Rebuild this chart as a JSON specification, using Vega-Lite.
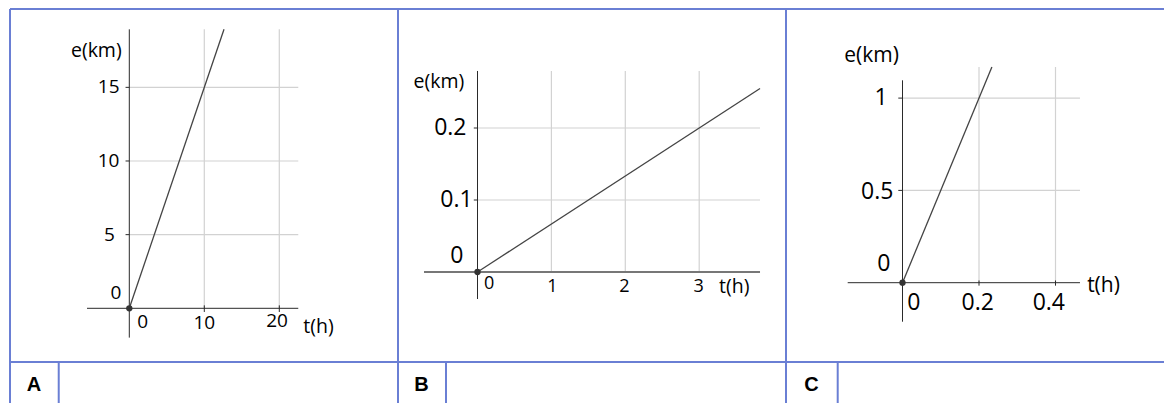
{
  "$schema": "https://vega.github.io/schema/vega-lite/v6.json",
  "padding": {"left": 9, "top": 8, "right": 0, "bottom": 0},
  "spacing": 0,
  "bounds": "flush",
  "config": {"view": {"stroke": null}},
  "hconcat": [
    {
      "width": 388, "height": 395,
      "data": {"values": [
        {"kind": "border", "t": -15.907, "t2": 35.827, "e": 20.319, "e2": 20.319},
        {"kind": "border", "t": -15.907, "t2": -15.907, "e": 20.319, "e2": -6.497},
        {"kind": "border", "t": -15.907, "t2": 35.827, "e": -3.646, "e2": -3.646},
        {"kind": "border", "t": -9.41, "t2": -9.41, "e": -3.646, "e2": -6.497},
        {"kind": "grid", "t": 10, "t2": 10, "e": 0, "e2": 18.94},
        {"kind": "grid", "t": 20, "t2": 20, "e": 0, "e2": 18.94},
        {"kind": "grid", "t": 0, "t2": 22.53, "e": 5, "e2": 5},
        {"kind": "grid", "t": 0, "t2": 22.53, "e": 10, "e2": 10},
        {"kind": "grid", "t": 0, "t2": 22.53, "e": 15, "e2": 15},
        {"kind": "axis", "t": -5.64, "t2": 22.53, "e": 0, "e2": 0},
        {"kind": "axis", "t": 0, "t2": 0, "e": -1.99, "e2": 18.94},
        {"kind": "axis", "t": -0.5, "t2": 0, "e": 5, "e2": 5},
        {"kind": "axis", "t": -0.5, "t2": 0, "e": 10, "e2": 10},
        {"kind": "axis", "t": -0.5, "t2": 0, "e": 15, "e2": 15},
        {"kind": "axis", "t": 10, "t2": 10, "e": 0.2, "e2": -0.25},
        {"kind": "axis", "t": 20, "t2": 20, "e": 0.2, "e2": -0.25},
        {"kind": "fn", "t": 0, "e": 0},
        {"kind": "fn", "t": 12.63, "e": 18.94},
        {"kind": "origin", "t": 0, "e": 0},
        {"kind": "lab", "t": -2.75, "e": 15, "label": "15"},
        {"kind": "lab", "t": -2.77, "e": 10, "label": "10"},
        {"kind": "lab", "t": -2.64, "e": 5, "label": "5"},
        {"kind": "lab", "t": -1.77, "e": 1.02, "label": "0"},
        {"kind": "lab", "t": 1.79, "e": -0.93, "label": "0"},
        {"kind": "lab", "t": 10, "e": -1.0, "label": "10"},
        {"kind": "lab", "t": 19.7, "e": -0.86, "label": "20"},
        {"kind": "title", "t": 25.23, "e": -1.27, "label": "t(h)"},
        {"kind": "title", "t": -4.4, "e": 17.47, "label": "e(km)"},
        {"kind": "cell", "t": -12.71, "e": -5.187, "label": "A"}
      ]},
      "encoding": {
        "x": {"field": "t", "type": "quantitative", "scale": {"domain": [-15.907, 35.827], "nice": false, "zero": false}, "axis": null},
        "y": {"field": "e", "type": "quantitative", "scale": {"domain": [-6.497, 20.319], "nice": false, "zero": false}, "axis": null}
      },
      "layer": [
        {"transform": [{"filter": "datum.kind === 'grid'"}], "mark": {"type": "rule", "stroke": "#d2d2d2", "strokeWidth": 1.2}, "encoding": {"x2": {"field": "t2"}, "y2": {"field": "e2"}}},
        {"transform": [{"filter": "datum.kind === 'axis'"}], "mark": {"type": "rule", "stroke": "#2a2a2a", "strokeWidth": 1}, "encoding": {"x2": {"field": "t2"}, "y2": {"field": "e2"}}},
        {"transform": [{"filter": "datum.kind === 'border'"}], "mark": {"type": "rule", "stroke": "#6a7fd4", "strokeWidth": 2}, "encoding": {"x2": {"field": "t2"}, "y2": {"field": "e2"}}},
        {"transform": [{"filter": "datum.kind === 'fn'"}], "mark": {"type": "line", "stroke": "#444444", "strokeWidth": 1.3}},
        {"transform": [{"filter": "datum.kind === 'origin'"}], "mark": {"type": "point", "filled": true, "fill": "#333333", "size": 40, "opacity": 1}},
        {"transform": [{"filter": "datum.kind === 'lab'"}], "mark": {"type": "text", "font": "Open Sans", "fontSize": 19, "fill": "#000000", "align": "center", "baseline": "middle"}, "encoding": {"text": {"field": "label"}}},
        {"transform": [{"filter": "datum.kind === 'title'"}], "mark": {"type": "text", "font": "Open Sans", "fontSize": 19.5, "fill": "#000000", "align": "center", "baseline": "middle"}, "encoding": {"text": {"field": "label"}}},
        {"transform": [{"filter": "datum.kind === 'cell'"}], "mark": {"type": "text", "font": "Liberation Sans", "fontWeight": "bold", "fontSize": 20, "fill": "#000000", "align": "center", "baseline": "middle"}, "encoding": {"text": {"field": "label"}}}
      ]
    },
    {
      "width": 388, "height": 395,
      "data": {"values": [
        {"kind": "border", "t": -1.0758, "t2": 4.1746, "e": 0.36528, "e2": 0.36528},
        {"kind": "border", "t": -1.0758, "t2": -1.0758, "e": 0.36528, "e2": -0.18333},
        {"kind": "border", "t": -1.0758, "t2": 4.1746, "e": -0.125, "e2": -0.125},
        {"kind": "border", "t": -0.4263, "t2": -0.4263, "e": -0.125, "e2": -0.18333},
        {"kind": "grid", "t": 1, "t2": 1, "e": 0, "e2": 0.2792},
        {"kind": "grid", "t": 2, "t2": 2, "e": 0, "e2": 0.2792},
        {"kind": "grid", "t": 3, "t2": 3, "e": 0, "e2": 0.2792},
        {"kind": "grid", "t": 0, "t2": 3.823, "e": 0.1, "e2": 0.1},
        {"kind": "grid", "t": 0, "t2": 3.823, "e": 0.2, "e2": 0.2},
        {"kind": "xaxis", "t": -0.724, "t2": 3.823, "e": 0, "e2": 0},
        {"kind": "axis", "t": 0, "t2": 0, "e": -0.0375, "e2": 0.2792},
        {"kind": "axis", "t": -0.05, "t2": 0, "e": 0.1, "e2": 0.1},
        {"kind": "axis", "t": -0.05, "t2": 0, "e": 0.2, "e2": 0.2},
        {"kind": "fn", "t": 0, "e": 0},
        {"kind": "fn", "t": 3.823, "e": 0.2549},
        {"kind": "origin", "t": 0, "e": 0},
        {"kind": "ylab", "t": -0.368, "e": 0.2, "label": "0.2"},
        {"kind": "ylab", "t": -0.284, "e": 0.1, "label": "0.1"},
        {"kind": "ylab", "t": -0.28, "e": 0.0222, "label": "0"},
        {"kind": "lab", "t": 0.156, "e": -0.016, "label": "0"},
        {"kind": "lab", "t": 1.012, "e": -0.0208, "label": "1"},
        {"kind": "lab", "t": 1.987, "e": -0.0208, "label": "2"},
        {"kind": "lab", "t": 2.993, "e": -0.0208, "label": "3"},
        {"kind": "title", "t": 3.475, "e": -0.0206, "label": "t(h)"},
        {"kind": "title", "t": -0.521, "e": 0.2632, "label": "e(km)"},
        {"kind": "cell", "t": -0.7577, "e": -0.15625, "label": "B"}
      ]},
      "encoding": {
        "x": {"field": "t", "type": "quantitative", "scale": {"domain": [-1.0758, 4.1746], "nice": false, "zero": false}, "axis": null},
        "y": {"field": "e", "type": "quantitative", "scale": {"domain": [-0.18333, 0.36528], "nice": false, "zero": false}, "axis": null}
      },
      "layer": [
        {"transform": [{"filter": "datum.kind === 'grid'"}], "mark": {"type": "rule", "stroke": "#d2d2d2", "strokeWidth": 1.2}, "encoding": {"x2": {"field": "t2"}, "y2": {"field": "e2"}}},
        {"transform": [{"filter": "datum.kind === 'xaxis'"}], "mark": {"type": "rule", "stroke": "#777777", "strokeWidth": 2}, "encoding": {"x2": {"field": "t2"}, "y2": {"field": "e2"}}},
        {"transform": [{"filter": "datum.kind === 'axis'"}], "mark": {"type": "rule", "stroke": "#2a2a2a", "strokeWidth": 1}, "encoding": {"x2": {"field": "t2"}, "y2": {"field": "e2"}}},
        {"transform": [{"filter": "datum.kind === 'border'"}], "mark": {"type": "rule", "stroke": "#6a7fd4", "strokeWidth": 2}, "encoding": {"x2": {"field": "t2"}, "y2": {"field": "e2"}}},
        {"transform": [{"filter": "datum.kind === 'fn'"}], "mark": {"type": "line", "stroke": "#444444", "strokeWidth": 1.3}},
        {"transform": [{"filter": "datum.kind === 'origin'"}], "mark": {"type": "point", "filled": true, "fill": "#333333", "size": 40, "opacity": 1}},
        {"transform": [{"filter": "datum.kind === 'ylab'"}], "mark": {"type": "text", "font": "Open Sans", "fontSize": 23, "fill": "#000000", "align": "center", "baseline": "middle"}, "encoding": {"text": {"field": "label"}}},
        {"transform": [{"filter": "datum.kind === 'lab'"}], "mark": {"type": "text", "font": "Open Sans", "fontSize": 18, "fill": "#000000", "align": "center", "baseline": "middle"}, "encoding": {"text": {"field": "label"}}},
        {"transform": [{"filter": "datum.kind === 'title'"}], "mark": {"type": "text", "font": "Open Sans", "fontSize": 19.5, "fill": "#000000", "align": "center", "baseline": "middle"}, "encoding": {"text": {"field": "label"}}},
        {"transform": [{"filter": "datum.kind === 'cell'"}], "mark": {"type": "text", "font": "Liberation Sans", "fontWeight": "bold", "fontSize": 20, "fill": "#000000", "align": "center", "baseline": "middle"}, "encoding": {"text": {"field": "label"}}}
      ]
    },
    {
      "width": 379, "height": 395,
      "data": {"values": [
        {"kind": "border", "t": -0.30458, "t2": 0.68627, "e": 1.48266, "e2": 1.48266},
        {"kind": "border", "t": -0.30458, "t2": -0.30458, "e": 1.48266, "e2": -0.6571},
        {"kind": "border", "t": -0.30458, "t2": 0.68627, "e": -0.4296, "e2": -0.4296},
        {"kind": "border", "t": -0.16941, "t2": -0.16941, "e": -0.4296, "e2": -0.6571},
        {"kind": "grid", "t": 0.2, "t2": 0.2, "e": 0, "e2": 1.1685},
        {"kind": "grid", "t": 0.4, "t2": 0.4, "e": 0, "e2": 1.1685},
        {"kind": "grid", "t": 0, "t2": 0.464, "e": 0.5, "e2": 0.5},
        {"kind": "grid", "t": 0, "t2": 0.464, "e": 1, "e2": 1},
        {"kind": "axis", "t": -0.1433, "t2": 0.464, "e": 0, "e2": 0},
        {"kind": "axis", "t": 0, "t2": 0, "e": -0.2113, "e2": 1.0964},
        {"kind": "axis", "t": -0.011, "t2": 0, "e": 0.5, "e2": 0.5},
        {"kind": "axis", "t": -0.011, "t2": 0, "e": 1, "e2": 1},
        {"kind": "axis", "t": 0.2, "t2": 0.2, "e": 0.012, "e2": -0.016},
        {"kind": "axis", "t": 0.4, "t2": 0.4, "e": 0.012, "e2": -0.016},
        {"kind": "fn", "t": 0, "e": 0},
        {"kind": "fn", "t": 0.2337, "e": 1.1685},
        {"kind": "origin", "t": 0, "e": 0},
        {"kind": "lab", "t": -0.0557, "e": 1.0, "label": "1"},
        {"kind": "lab", "t": -0.066, "e": 0.494, "label": "0.5"},
        {"kind": "lab", "t": -0.049, "e": 0.0997, "label": "0"},
        {"kind": "lab", "t": 0.0293, "e": -0.108, "label": "0"},
        {"kind": "lab", "t": 0.1966, "e": -0.108, "label": "0.2"},
        {"kind": "lab", "t": 0.3825, "e": -0.108, "label": "0.4"},
        {"kind": "title", "t": 0.5255, "e": -0.018, "label": "t(h)"},
        {"kind": "title", "t": -0.081, "e": 1.228, "label": "e(km)"},
        {"kind": "cell", "t": -0.2379, "e": -0.5515, "label": "C"}
      ]},
      "encoding": {
        "x": {"field": "t", "type": "quantitative", "scale": {"domain": [-0.30458, 0.68627], "nice": false, "zero": false}, "axis": null},
        "y": {"field": "e", "type": "quantitative", "scale": {"domain": [-0.6571, 1.48266], "nice": false, "zero": false}, "axis": null}
      },
      "layer": [
        {"transform": [{"filter": "datum.kind === 'grid'"}], "mark": {"type": "rule", "stroke": "#d2d2d2", "strokeWidth": 1.2}, "encoding": {"x2": {"field": "t2"}, "y2": {"field": "e2"}}},
        {"transform": [{"filter": "datum.kind === 'axis'"}], "mark": {"type": "rule", "stroke": "#2a2a2a", "strokeWidth": 1}, "encoding": {"x2": {"field": "t2"}, "y2": {"field": "e2"}}},
        {"transform": [{"filter": "datum.kind === 'border'"}], "mark": {"type": "rule", "stroke": "#6a7fd4", "strokeWidth": 2}, "encoding": {"x2": {"field": "t2"}, "y2": {"field": "e2"}}},
        {"transform": [{"filter": "datum.kind === 'fn'"}], "mark": {"type": "line", "stroke": "#444444", "strokeWidth": 1.3}},
        {"transform": [{"filter": "datum.kind === 'origin'"}], "mark": {"type": "point", "filled": true, "fill": "#333333", "size": 40, "opacity": 1}},
        {"transform": [{"filter": "datum.kind === 'lab'"}], "mark": {"type": "text", "font": "Open Sans", "fontSize": 23, "fill": "#000000", "align": "center", "baseline": "middle"}, "encoding": {"text": {"field": "label"}}},
        {"transform": [{"filter": "datum.kind === 'title'"}], "mark": {"type": "text", "font": "Open Sans", "fontSize": 21, "fill": "#000000", "align": "center", "baseline": "middle"}, "encoding": {"text": {"field": "label"}}},
        {"transform": [{"filter": "datum.kind === 'cell'"}], "mark": {"type": "text", "font": "Liberation Sans", "fontWeight": "bold", "fontSize": 20, "fill": "#000000", "align": "center", "baseline": "middle"}, "encoding": {"text": {"field": "label"}}}
      ]
    }
  ]
}
